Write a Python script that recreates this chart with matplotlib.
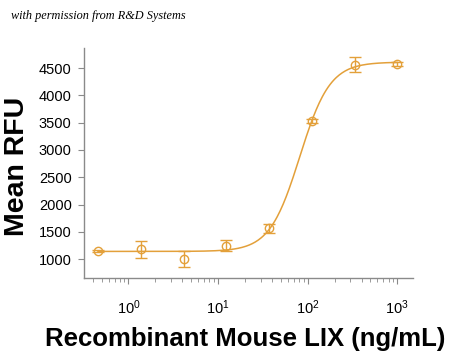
import numpy as np
import matplotlib
matplotlib.use("Agg")
import matplotlib.pyplot as plt
from matplotlib.ticker import LogLocator, FixedLocator, NullFormatter

# concentrations (ng/mL) and responses
conc = [0.457, 1.37, 4.12, 12.3, 37.0, 111.0, 333.0, 1000.0]
mean_rfu = [1152, 1178, 1000, 1244, 1566, 3531, 4560, 4578]
err_rfu = [20, 160, 150, 100, 80, 40, 140, 40]

# 4PL fit parameters
fit_bottom = 1140
fit_top = 4610
fit_ec50 = 81.5
fit_hill = 2.58

yticks = [1000, 1500, 2000, 2500, 3000, 3500, 4000, 4500]
xticks = [1, 10, 100, 1000]
xtick_labels = ["$10^{0}$", "$10^{1}$", "$10^{2}$", "$10^{3}$"]

orange = "#e3a03a"
grey = "#8a8a8a"

tickfont = ["Liberation Sans", "DejaVu Sans"]
plt.rcParams["mathtext.fontset"] = "custom"
plt.rcParams["mathtext.rm"] = "Liberation Sans"
plt.rcParams["mathtext.it"] = "Liberation Sans"

fig = plt.figure(figsize=(4.5, 3.55), dpi=100)
ax = fig.add_axes([0.187, 0.218, 0.731, 0.647])

xs = np.logspace(np.log10(conc[0]), np.log10(conc[-1]), 300)
ys = fit_bottom + (fit_top - fit_bottom) / (1 + (fit_ec50 / xs) ** fit_hill)
ax.plot(xs, ys, color=orange, lw=1.1)
ax.errorbar(conc, mean_rfu, yerr=err_rfu, fmt="o", mfc="none", mec=orange,
            ms=6, mew=1.0, ecolor=orange, elinewidth=1.0, capsize=4, capthick=1.0)

ax.set_xscale("log")
ax.set_xlim(0.32, 1500)
ax.set_ylim(660, 4870)
ax.xaxis.set_major_locator(FixedLocator(xticks))
ax.set_xticklabels(xtick_labels)
ax.xaxis.set_minor_locator(LogLocator(base=10, subs=np.arange(2, 10)))
ax.xaxis.set_minor_formatter(NullFormatter())
ax.set_yticks(yticks)

for s in ["top", "right"]:
    ax.spines[s].set_visible(False)
for s in ["left", "bottom"]:
    ax.spines[s].set_color(grey)
    ax.spines[s].set_linewidth(1.0)
ax.tick_params(axis="both", which="major", color=grey, length=4, width=0.8,
               labelsize=10.5, pad=5)
ax.tick_params(axis="x", which="minor", color=grey, length=3, width=0.6)
ax.tick_params(axis="x", which="major", pad=11)
for lab in ax.get_xticklabels() + ax.get_yticklabels():
    lab.set_family(tickfont)

ax.set_ylabel("Mean RFU", fontsize=20.5, fontweight="bold",
              family=["Liberation Sans", "DejaVu Sans"])
ax.yaxis.set_label_coords(-0.165, 0.486)
ax.set_xlabel("Recombinant Mouse LIX (ng/mL)", fontsize=18.5, fontweight="bold",
              family=["Liberation Sans", "DejaVu Sans"])
ax.xaxis.set_label_coords(0.49, -0.215)

fig.text(0.024, 0.955, "with permission from R&D Systems", fontsize=8.8,
         style="italic", family=["Liberation Serif", "DejaVu Serif"], va="center")

fig.savefig("out.png", dpi=100)
